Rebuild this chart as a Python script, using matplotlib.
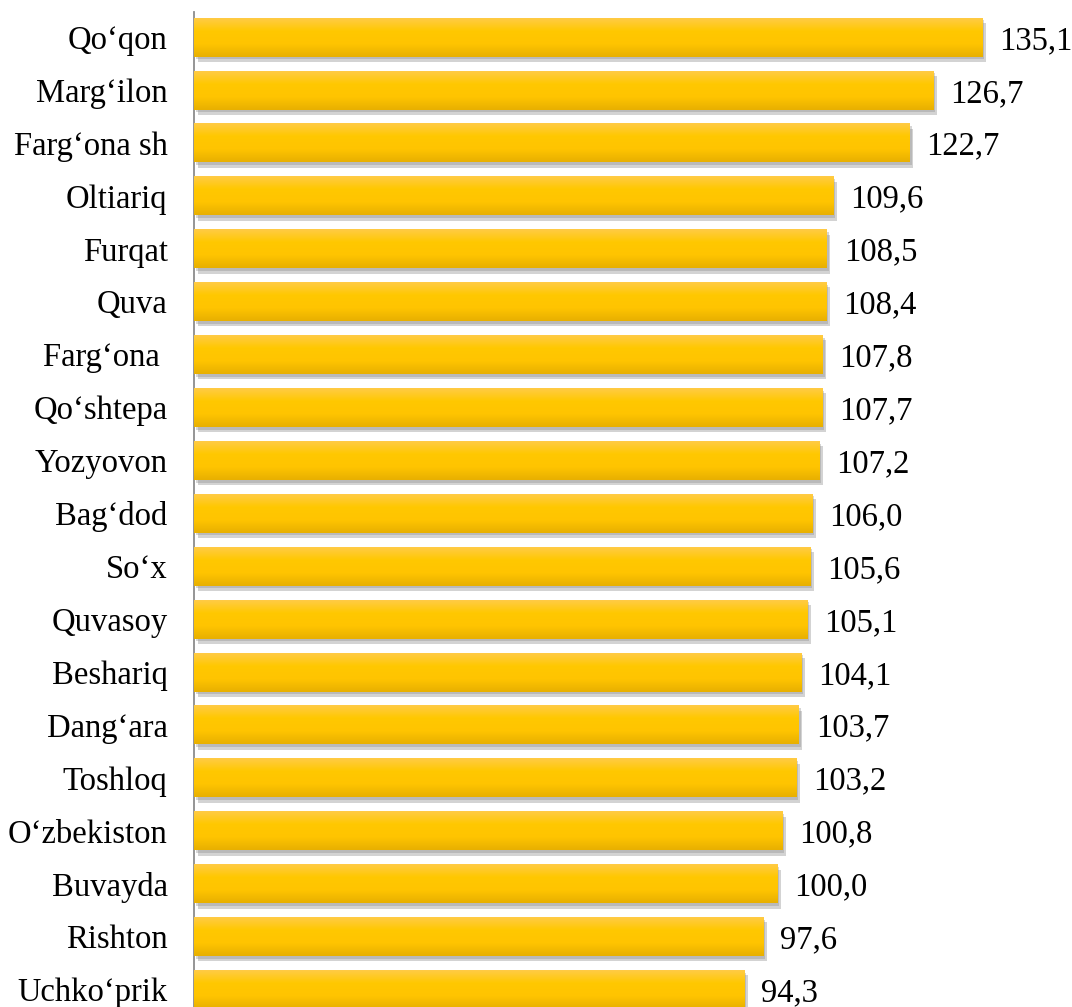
import numpy as np
import matplotlib.pyplot as plt
from matplotlib.colors import LinearSegmentedColormap

# tumanlar va qiymatlar
tumanlar = ["Qo‘qon", "Marg‘ilon", "Farg‘ona sh", "Oltiariq", "Furqat", "Quva",
            "Farg‘ona ", "Qo‘shtepa", "Yozyovon", "Bag‘dod", "So‘x", "Quvasoy",
            "Beshariq", "Dang‘ara", "Toshloq", "O‘zbekiston", "Buvayda",
            "Rishton", "Uchko‘prik"]
qiymatlar = [135.1, 126.7, 122.7, 109.6, 108.5, 108.4, 107.8, 107.7, 107.2,
             106.0, 105.6, 105.1, 104.1, 103.7, 103.2, 100.8, 100.0, 97.6, 94.3]
yorliqlar = ["135,1", "126,7", "122,7", "109,6", "108,5", "108,4", "107,8",
             "107,7", "107,2", "106,0", "105,6", "105,1", "104,1", "103,7",
             "103,2", "100,8", "100,0", "97,6", "94,3"]

plt.rcParams['font.family'] = ['Liberation Serif', 'DejaVu Serif']

fig = plt.figure(figsize=(10.72, 10.07), dpi=100)
ax = fig.add_axes([194 / 1072, 0, 1 - 194 / 1072, 1 - 12 / 1007])

y = np.arange(len(tumanlar))
h = 0.737

# soya
ax.barh(y + 0.10, qiymatlar, height=h, left=0.6, color='#6e6e6e', alpha=0.3,
        zorder=1)
ax.barh(y + 0.05, qiymatlar, height=h, left=0.3, color='#8a8a8a', alpha=0.35,
        zorder=1)

bars = ax.barh(y, qiymatlar, height=h, color='#FFC800', zorder=2)

cmap = LinearSegmentedColormap.from_list(
    'sariq', ['#FFCB45', '#FFC800', '#FFC400', '#E8B000'])
grad = np.linspace(0, 1, 64).reshape(-1, 1)
for b in bars:
    x0, y0 = b.get_x(), b.get_y()
    w, hh = b.get_width(), b.get_height()
    im = ax.imshow(grad, cmap=cmap, aspect='auto', zorder=3,
                   extent=(x0, x0 + w, y0 + hh, y0), interpolation='bilinear')
    im.set_clip_path(b)

for yi, v, t in zip(y, qiymatlar, yorliqlar):
    ax.annotate(t, (v, yi), xytext=(12, 0), textcoords='offset points',
                va='center_baseline', ha='left', fontsize=23.5, color='black')

ax.set_xlim(0, 150.5)
ax.set_ylim(len(tumanlar) - 1 + 0.33, -0.475)
ax.set_yticks(y)
ax.set_yticklabels(tumanlar, fontsize=23.5, va='center_baseline')
ax.set_xticks([])
ax.tick_params(axis='y', length=0, pad=19)
for s in ['top', 'right', 'bottom']:
    ax.spines[s].set_visible(False)
ax.spines['left'].set_color('#8c8c8c')
ax.spines['left'].set_linewidth(1.3)

fig.savefig('out.png', dpi=100)
